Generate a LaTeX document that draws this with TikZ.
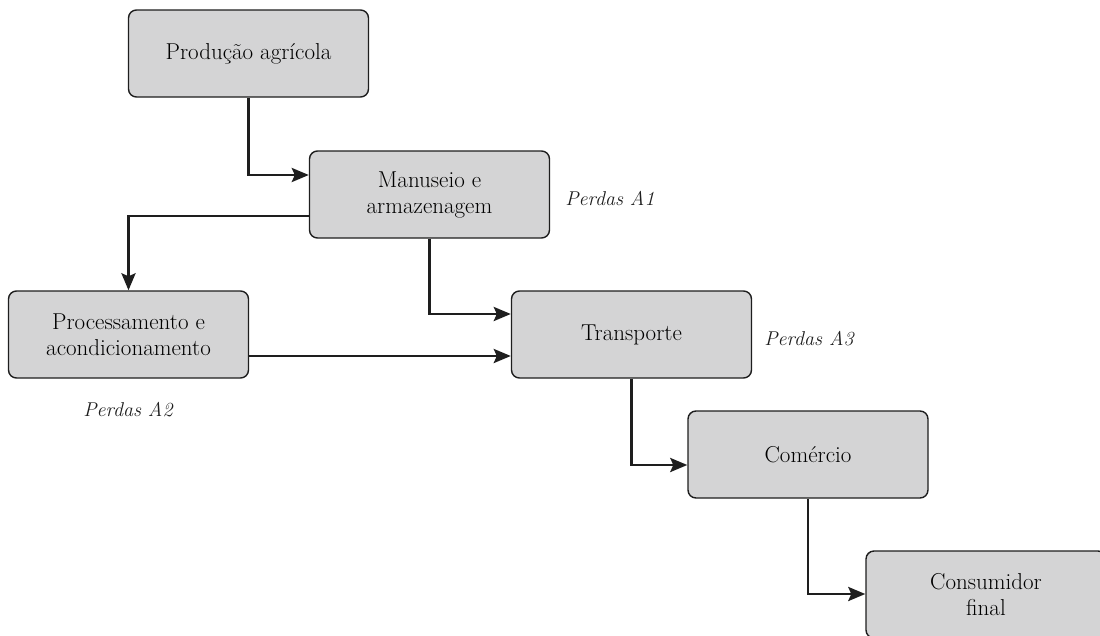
\documentclass[tikz,border=0pt]{standalone}
\usepackage{fontspec}
\usetikzlibrary{arrows.meta}
\definecolor{boxfill}{RGB}{212,212,213}
\definecolor{ink}{RGB}{30,30,30}
\begin{document}
\begin{tikzpicture}[x=1pt,y=-1pt,
  stagebox/.style={draw=ink,fill=boxfill,line width=1.4pt,rounded corners=8pt,
    minimum width=240pt,minimum height=87pt,align=center,inner sep=0pt,
    font=\fontsize{23}{26}\selectfont},
  flow/.style={draw=ink,line width=2.8pt,
    -{Stealth[length=17pt,width=14pt,inset=3pt]}},
  loss/.style={font=\fontsize{20}{24}\selectfont\itshape,text=ink}]
\useasboundingbox (0,0) rectangle (1100,635);
\node[stagebox] (prod) at (248.5,53.5) {Produção agrícola};
\node[stagebox] (man) at (429.5,194.5) {Manuseio e\\armazenagem};
\node[stagebox] (proc) at (128.5,334.5) {Processamento e\\acondicionamento};
\node[stagebox] (trans) at (631.5,334.5) {Transporte};
\node[stagebox] (com) at (808,454.5) {Comércio};
\node[stagebox] (cons) at (986,594.5) {Consumidor\\final};
\node[loss] (l1) at (610,198) {Perdas A1};
\node[loss] (l3) at (809,339) {Perdas A3};
\node[loss] (l2) at (128,410) {Perdas A2};
\draw[flow] (prod.south) |- (man.west |- 0,175);
\draw[flow] (man.west |- 0,216) -| (proc.north);
\draw[flow] (man.south) |- (trans.west |- 0,314);
\draw[flow] (proc.east |- 0,356) -- (trans.west |- 0,356);
\draw[flow] (trans.south) |- (com.west |- 0,465);
\draw[flow] (com.south) |- (cons.west |- 0,594);
\end{tikzpicture}
\end{document}
